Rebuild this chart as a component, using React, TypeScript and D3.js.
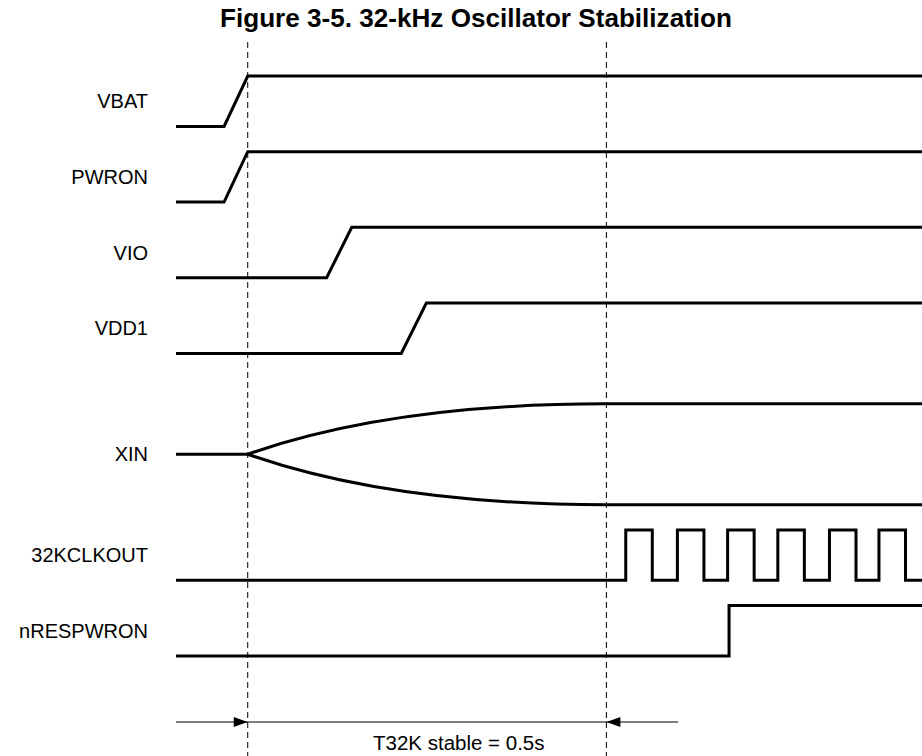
import * as d3 from 'd3'

const W = 922
const H = 756

const title = 'Figure 3-5. 32-kHz Oscillator Stabilization'
const signalNames = ['VBAT', 'PWRON', 'VIO', 'VDD1', 'XIN', '32KCLKOUT', 'nRESPWRON']
// lane (half-swing units from the top) of each signal's high level
const signalLanes = [0, 3, 6, 9, 13, 18, 21]
// vertical extent of each signal in lanes (XIN swings both ways)
const signalSpans = [2, 2, 2, 2, 4, 2, 2]

// time in ms, level: 1 = high, 0 = low
const vbatWave: [number, number][] = [[-100, 0], [-33, 0], [0, 1], [940, 1]]
const pwronWave: [number, number][] = [[-100, 0], [-33, 0], [0, 1], [940, 1]]
const vioWave: [number, number][] = [[-100, 0], [110, 0], [145, 1], [940, 1]]
const vdd1Wave: [number, number][] = [[-100, 0], [214, 0], [249, 1], [940, 1]]
const clkRise = [527, 599, 669, 739, 811, 880]
const clkFall = [564, 636, 706, 776, 848, 917]
const nresRise = 671
const xinStart = 0
const xinBend = 200
const xinStable = 500
const timeDomain = [-100, 940]
const markers = [0, 500]
const arrowTail = [-100, 600]
const stableLabel = 'T32K stable = 0.5s'

const FONT = '"Liberation Sans", Arial, Helvetica, sans-serif'

function clockWave(): [number, number][] {
  const pts: [number, number][] = [[timeDomain[0], 0]]
  clkRise.forEach((r, i) => {
    pts.push([r, 0], [r, 1], [clkFall[i], 1], [clkFall[i], 0])
  })
  pts.push([timeDomain[1], 0])
  return pts
}

export default function App() {
  const x = d3.scaleLinear().domain(timeDomain).range([176, 922])
  const y = d3.scaleLinear().domain([0, 23]).range([76, 656])

  const waves: ([number, number][] | null)[] = [
    vbatWave,
    pwronWave,
    vioWave,
    vdd1Wave,
    null,
    clockWave(),
    [[timeDomain[0], 0], [nresRise, 0], [nresRise, 1], [timeDomain[1], 1]]
  ]

  const wavePath = (lane: number, pts: [number, number][]) =>
    d3.line<[number, number]>()
      .x(d => x(d[0]))
      .y(d => y(lane + (1 - d[1]) * 2))(pts) || ''

  // XIN oscillator envelope
  const xinLane = signalLanes[4]
  const xinMid = xinLane + 2
  const xinPath = (() => {
    const p = d3.path()
    p.moveTo(x(timeDomain[0]), y(xinMid))
    p.lineTo(x(xinStart), y(xinMid))
    p.quadraticCurveTo(x(xinBend), y(xinLane), x(xinStable), y(xinLane))
    p.lineTo(x(timeDomain[1]), y(xinLane))
    p.moveTo(x(xinStart), y(xinMid))
    p.quadraticCurveTo(x(xinBend), y(xinLane + 4), x(xinStable), y(xinLane + 4))
    p.lineTo(x(timeDomain[1]), y(xinLane + 4))
    return p.toString()
  })()

  const arrowY = 722
  const headLen = 14
  const headHalf = 5
  const xa = x(markers[0])
  const xb = x(markers[1])

  return (
    <svg
      width={W}
      height={H}
      style={{ position: 'absolute', left: 0, top: 0, background: '#fff', fontFamily: FONT }}
    >
      <text
        x={220}
        y={27}
        fontSize={25}
        fontWeight="bold"
        fill="#000"
        textLength={512}
        lengthAdjust="spacingAndGlyphs"
      >
        {title}
      </text>

      {markers.map(m => (
        <line
          key={m}
          x1={x(m)}
          x2={x(m)}
          y1={42}
          y2={H}
          stroke="#000"
          strokeWidth={1}
          strokeDasharray="6,4"
        />
      ))}

      {signalNames.map((name, i) => (
        <text
          key={name}
          x={148}
          y={y(signalLanes[i] + signalSpans[i] / 2)}
          textAnchor="end"
          dominantBaseline="central"
          fontSize={20}
          fill="#000"
        >
          {name}
        </text>
      ))}

      {waves.map((w, i) =>
        w ? (
          <path key={i} d={wavePath(signalLanes[i], w)} fill="none" stroke="#000" strokeWidth={3} />
        ) : null
      )}
      <path d={xinPath} fill="none" stroke="#000" strokeWidth={3} />

      <line x1={x(arrowTail[0])} x2={x(arrowTail[1])} y1={arrowY} y2={arrowY} stroke="#000" strokeWidth={1.2} />
      <path
        d={`M${xa},${arrowY} L${xa - headLen},${arrowY - headHalf} L${xa - headLen},${arrowY + headHalf} Z`}
        fill="#000"
      />
      <path
        d={`M${xb},${arrowY} L${xb + headLen},${arrowY - headHalf} L${xb + headLen},${arrowY + headHalf} Z`}
        fill="#000"
      />
      <text x={373} y={750} fontSize={20.5} fill="#000">
        {stableLabel}
      </text>
    </svg>
  )
}
